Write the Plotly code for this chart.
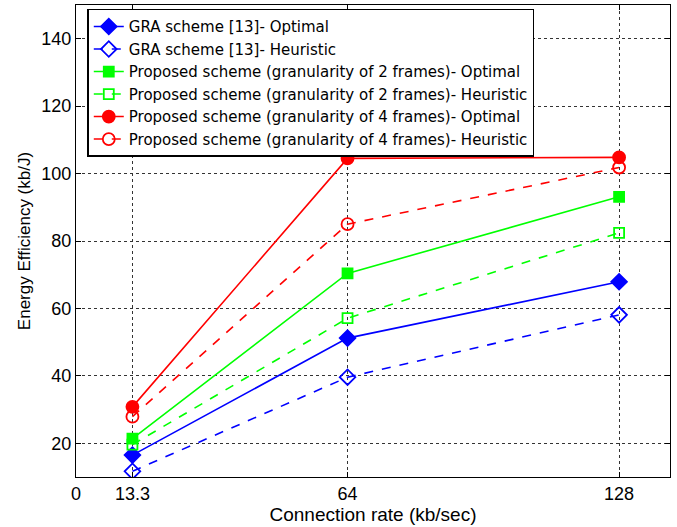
import plotly.graph_objects as go

# Connection rates (kb/sec) and energy efficiency (kb/J)
rates = [13.3, 64, 128]
gra_optimal = [16.5, 51.2, 67.9]
gra_heuristic = [11.7, 39.6, 58.1]
g2_optimal = [21.4, 70.4, 93.1]
g2_heuristic = [19.6, 57.1, 82.4]
g4_optimal = [30.8, 104.5, 104.8]
g4_heuristic = [27.9, 85.0, 101.8]

x_tickvals = [0, 13.3, 64, 128]
x_ticktext = ["0", "13.3", "64", "128"]
y_tickvals = [20, 40, 60, 80, 100, 120, 140]

series = [
    ("GRA scheme [13]- Optimal", gra_optimal, "#0000FF", "solid", "diamond", 12),
    ("GRA scheme [13]- Heuristic", gra_heuristic, "#0000FF", "dash", "diamond-open", 12),
    ("Proposed scheme (granularity of 2 frames)- Optimal", g2_optimal, "#00FF00", "solid", "square", 10),
    ("Proposed scheme (granularity of 2 frames)- Heuristic", g2_heuristic, "#00FF00", "dash", "square-open", 10),
    ("Proposed scheme (granularity of 4 frames)- Optimal", g4_optimal, "#FF0000", "solid", "circle", 12),
    ("Proposed scheme (granularity of 4 frames)- Heuristic", g4_heuristic, "#FF0000", "dash", "circle-open", 12),
]

fig = go.Figure()
for name, vals, color, dash, symbol, size in series:
    fig.add_trace(go.Scatter(
        x=rates, y=vals, name=name, mode="lines+markers",
        line=dict(color=color, width=1.6, dash=dash),
        marker=dict(symbol=symbol, size=size, color=color,
                    line=dict(color=color, width=1.8)),
    ))

axis_common = dict(
    showline=True, linecolor="black", linewidth=1.2, mirror="ticks",
    ticks="inside", ticklen=5, tickcolor="black",
    showgrid=True, gridcolor="#333333", gridwidth=1, griddash="dot",
    zeroline=False, tickfont=dict(size=18, color="black"),
)

fig.update_xaxes(range=[0, 140], tickvals=x_tickvals, ticktext=x_ticktext,
                 title=dict(text="Connection rate (kb/sec)", font=dict(size=19, color="black"), standoff=4),
                 **axis_common)
fig.update_yaxes(range=[10, 150], tickvals=y_tickvals,
                 title=dict(text="Energy Efficiency (kb/J)", font=dict(size=17, color="black"), standoff=6),
                 **axis_common)

fig.update_layout(
    width=677, height=527,
    margin=dict(l=76, r=7, t=5, b=50),
    paper_bgcolor="white", plot_bgcolor="white",
    font=dict(family="Liberation Sans, Arial, sans-serif", size=18, color="black"),
    legend=dict(x=0.019, y=0.992, xanchor="left", yanchor="top",
                bgcolor="white", bordercolor="black", borderwidth=1.5,
                font=dict(family="DejaVu Sans", size=15), tracegroupgap=0, itemwidth=30),
)

fig.write_html("out.html")
